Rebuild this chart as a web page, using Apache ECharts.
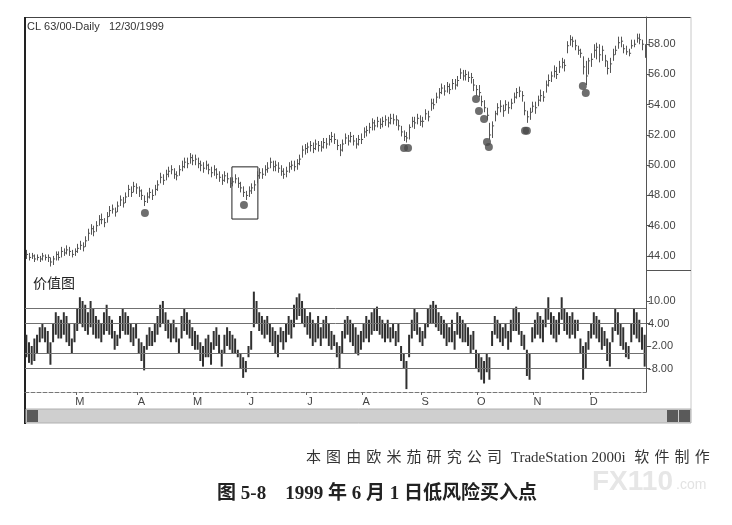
<!DOCTYPE html>
<html><head><meta charset="utf-8">
<script src="https://cdn.jsdelivr.net/npm/echarts@6/dist/echarts.min.js"></script>
<style>html,body{margin:0;padding:0;background:#fff}#c{width:732px;height:525px}</style>
</head><body><div id="c"></div><script>
// ---- price bars (daily, Feb 1 1999 .. Dec 30 1999), one row per month ----
const priceClose = [
 44.1,43.9,44.0,43.8,43.9,43.8,44.0,43.9,43.9,43.6,43.8,44.1,43.9,44.3,44.2,44.4,44.3,44.1,44.3,
 44.5,44.7,44.6,45.0,45.5,45.8,45.6,46.0,46.4,46.4,46.2,46.6,47.0,47.1,46.9,47.3,47.7,47.5,47.9,48.4,48.2,48.6,48.5,
 48.3,48.0,47.6,47.9,48.2,48.0,48.4,48.7,49.2,49.0,49.4,49.6,49.7,49.4,49.3,49.7,49.9,50.2,50.1,50.5,50.3,
 50.4,50.1,50.0,49.8,50.0,49.7,49.5,49.7,49.4,49.2,49.0,49.3,49.1,48.8,48.9,49.1,48.8,48.5,48.2,48.0,
 48.3,48.5,48.7,49.3,49.5,49.4,49.7,49.8,50.2,49.9,50.0,49.8,49.6,49.4,49.6,49.9,50.0,49.9,50.1,50.4,51.0,51.1,
 51.2,51.3,51.1,51.4,51.3,51.2,51.5,51.4,51.7,51.9,51.7,51.3,51.0,51.4,51.8,51.6,51.9,51.6,51.4,51.7,51.7,
 52.2,52.3,52.5,52.8,52.6,52.9,52.7,52.9,53.0,52.8,53.1,53.0,53.0,52.6,52.2,51.9,51.8,52.5,52.9,52.8,53.1,52.9,
 52.9,53.4,53.2,54.1,54.0,54.5,54.8,55.1,54.9,55.2,55.0,55.4,55.3,55.6,56.1,55.9,56.0,55.8,55.8,55.3,55.0,
 54.8,54.2,53.8,53.3,52.0,52.6,53.4,53.8,53.9,53.6,54.0,53.8,54.1,54.5,54.8,54.9,54.6,53.6,53.2,53.5,53.9,
 53.8,54.3,54.6,54.5,55.3,55.6,55.9,56.2,56.0,56.5,56.8,56.6,57.9,58.3,58.2,57.9,57.6,57.4,56.5,55.9,56.9,
 57.0,57.6,57.8,57.3,57.6,56.9,56.4,56.7,57.3,57.6,58.1,58.2,57.7,57.5,57.4,57.9,58.0,58.4,58.3,58.0,57.2
];
const priceHigh = [
 44.4,44.2,44.2,44.1,44.1,44.0,44.2,44.1,44.1,43.9,44.0,44.3,44.3,44.6,44.5,44.7,44.6,44.4,44.5,
 44.8,45.0,44.9,45.3,45.8,46.1,46.0,46.3,46.7,46.8,46.5,46.9,47.3,47.4,47.2,47.6,48.0,47.9,48.2,48.7,48.6,48.9,48.8,
 48.6,48.4,48.0,48.2,48.5,48.4,48.7,49.0,49.5,49.4,49.7,49.9,50.0,49.8,49.6,50.0,50.3,50.5,50.5,50.8,50.7,
 50.7,50.5,50.3,50.2,50.3,50.1,49.9,50.0,49.8,49.6,49.4,49.6,49.5,49.2,49.2,49.4,49.2,48.9,48.6,48.3,
 48.6,48.8,49.0,49.6,49.8,49.8,50.0,50.2,50.5,50.3,50.3,50.2,50.0,49.8,49.9,50.2,50.3,50.3,50.4,50.7,51.3,51.4,
 51.5,51.6,51.5,51.7,51.6,51.6,51.8,51.8,52.0,52.2,52.1,51.7,51.4,51.7,52.1,52.0,52.2,52.0,51.8,52.0,52.1,
 52.5,52.6,52.8,53.1,53.0,53.2,53.1,53.2,53.3,53.2,53.4,53.4,53.3,53.0,52.6,52.3,52.2,52.7,53.2,53.2,53.4,53.3,
 53.2,53.7,53.6,54.4,54.4,54.8,55.1,55.4,55.3,55.5,55.4,55.7,55.7,55.9,56.4,56.3,56.3,56.2,56.1,55.7,55.3,
 55.3,54.6,54.3,53.8,52.8,52.9,53.6,54.1,54.3,54.0,54.3,54.2,54.4,54.8,55.1,55.2,54.9,54.2,53.6,53.8,54.2,
 54.2,54.6,55.0,54.9,55.6,56.0,56.2,56.6,56.5,56.9,57.1,57.0,58.2,58.6,58.5,58.3,57.9,57.7,57.2,56.9,57.1,
 57.4,58.0,58.1,58.0,57.9,57.3,56.9,57.1,57.7,57.9,58.5,58.5,58.0,57.9,57.7,58.3,58.3,58.7,58.7,58.3,58.0
];
const priceLow = [
 43.8,43.7,43.8,43.6,43.7,43.6,43.7,43.7,43.6,43.3,43.4,43.7,43.7,43.9,44.0,44.1,44.0,43.9,44.0,
 44.2,44.4,44.3,44.6,45.0,45.4,45.3,45.6,46.0,46.1,45.9,46.2,46.6,46.8,46.6,46.9,47.3,47.2,47.5,47.9,47.9,48.2,48.1,
 47.9,47.7,47.3,47.5,47.8,47.7,48.0,48.3,48.8,48.7,49.0,49.2,49.4,49.1,49.0,49.3,49.6,49.8,49.8,50.1,50.0,
 50.0,49.8,49.6,49.5,49.7,49.4,49.2,49.3,49.1,48.9,48.7,48.9,48.8,48.5,48.6,48.8,48.5,48.2,47.9,47.7,
 47.9,48.1,48.3,48.8,49.1,49.1,49.3,49.5,49.8,49.6,49.6,49.5,49.3,49.1,49.2,49.5,49.7,49.6,49.7,50.0,50.5,50.7,
 50.8,50.9,50.8,51.0,50.9,50.9,51.1,51.1,51.3,51.5,51.4,51.0,50.6,50.9,51.4,51.3,51.5,51.3,51.1,51.3,51.4,
 51.8,51.9,52.1,52.3,52.3,52.5,52.4,52.5,52.6,52.5,52.7,52.7,52.6,52.3,51.9,51.6,51.5,51.7,52.5,52.4,52.7,52.6,
 52.5,53.0,52.9,53.6,53.7,54.1,54.4,54.7,54.6,54.8,54.7,55.0,55.0,55.2,55.7,55.6,55.6,55.5,55.4,54.9,54.6,
 54.5,53.9,53.5,53.0,51.7,51.8,52.9,53.3,53.5,53.2,53.6,53.4,53.7,54.1,54.4,54.5,54.2,53.3,52.8,53.0,53.5,
 53.4,53.9,54.2,54.2,54.8,55.2,55.5,55.8,55.7,56.1,56.4,56.2,57.4,57.9,57.8,57.6,57.3,57.1,56.0,55.3,56.0,
 56.5,57.1,57.0,56.8,56.9,56.5,56.0,56.1,56.9,57.3,57.7,57.8,57.4,57.3,57.2,57.7,57.8,58.1,58.0,57.6,57.1
];
// ---- value chart (价值图) bar highs / lows ----
const valueHigh = [
 1,-1,-2,0,1,3,4,3,2,-1,4,7,6,5,7,6,4,0,4,
 8,11,10,9,7,10,8,6,5,4,7,9,6,5,2,1,6,8,7,6,4,3,4,
 0,-1,-2,1,3,2,4,6,9,10,7,5,4,5,3,0,6,8,7,5,3,
 2,1,-1,-2,0,1,-1,2,3,1,-3,1,3,2,1,0,-3,-4,-5,-6,
 -2,2,12.5,10,7,6,5,6,4,3,2,1,3,2,4,6,5,9,11,12,10,8,
 6,7,5,4,6,3,5,6,4,2,1,-1,-2,2,5,6,5,4,3,1,2,
 4,6,5,7,8,8.5,6,5,4,5,3,4,2,4,-2,-4,-6,1,5,8,7,3,
 2,4,8,9,10,9,7,6,5,4,3,5,2,7,6,5,4,3,1,2,-3,
 -4,-5,-6,-4,-5,2,6,5,4,3,4,2,5,8,8.5,7,2,1,-3,-4,3,
 5,7,6,5,8,11,7,6,5,7,11,8,7,6,7,5,5,0,-2,-1,2,
 4,7,6,5,3,2,0,-1,3,8,7,4,3,-1,-2,4,8,7,5,3,1
];
const valueLow = [
 -5,-6.5,-7,-6,-4,-1,0,-1,-4,-7,-1,1,0,0,1,-1,-2,-4,-1,
 2,4,3,2,1,3,1,0,0,-1,1,2,1,0,-3,-2,0,2,1,1,-1,-2,0,
 -4,-6,-8.5,-3,-2,-2,-1,1,3,4,2,0,-1,0,-1,-4,0,2,1,0,-2,
 -3,-3,-6,-7.5,-5,-5,-7,-3,-2,-4,-7.5,-4,-2,-3,-4,-4,-5,-8,-10.5,-9,
 -5,-3,3,4,2,1,0,1,-1,-2,-4,-5,-1,-3,-1,1,0,3,5,6,4,3,
 1,0,-2,-1,0,-2,0,0,-2,-3,-2,-5,-8,-4,0,1,-1,-2,-4,-4.5,-3,
 -1,0,-1,1,2,2,1,0,-1,0,-1,0,-2,-1,-6,-8,-13.5,-5,0,2,1,-1,
 -2,0,3,4,4,3,2,1,0,-2,-1,-1,-3,1,0,-1,-1,-2,-4,-3,-8,
 -9,-11,-12,-9,-11,-2,1,0,-1,-2,0,-3,-1,2,2,1,-2,-3,-10,-11,-1,
 0,1,0,-1,3,5,1,0,-1,1,5,2,1,0,1,0,2,-4,-11,-8,-3,
 0,1,0,-1,-3,-2,-6,-7.5,-1,2,1,-2,-3,-5,-5.5,-1,1,0,-1,-3,-7.5
];
// low-risk buy points (bar index, price)
const buyDots = [[44.3,46.84],[81.3,47.37],[141.1,51.14],[142.6,51.14],[168,54.38],[169.1,53.59],[171,53.06],
 [172.1,51.54],[172.8,51.21],[186.3,52.27],[187,52.27],[207.9,55.24],[209,54.78]];
// highlighted box around June 1 1999
const boxCorners = [[76.8,49.89],[86.5,46.44]];
const monthStarts = [19,42,63,83,105,126,148,169,190,211];
const monthLetters = ['M','A','M','J','J','A','S','O','N','D'];
const priceTicks = [44,46,48,50,52,54,56,58];
const valueTicks = [10,4,-2,-8];
const valueBands = [8,4,-4,-8];
const footerText = '本图由欧米茄研究公司 TradeStation 2000i 软件制作';
const captionText = '图 5-8    1999 年 6 月 1 日低风险买入点';

const priceData = priceClose.map((c,i)=>[i, priceHigh[i], priceLow[i], c]);
const valueData = valueHigh.map((h,i)=>[i, h, valueLow[i]]);
const N = priceClose.length;

const chart = echarts.init(document.getElementById('c'));
const sans = "'Liberation Sans', Arial, sans-serif";
const cjk = "'Liberation Serif','Noto Sans CJK SC',serif";

// footer: CJK characters are letter-spaced as in the printed figure
const footerFont = '15px ' + cjk;
const mctx = document.createElement('canvas').getContext('2d');
mctx.font = footerFont;
const footerParts = footerText.match(/[\u4e00-\u9fff]| ?[A-Za-z0-9][A-Za-z0-9 ]*[A-Za-z0-9] ?/g);
const cjkPitch = 20.1;
let fx = 306; const footerGraphics = [];
footerParts.forEach(p=>{
  footerGraphics.push({type:'text',x:fx,y:458,style:{text:p,fill:'#333',font:footerFont,textVerticalAlign:'middle'}});
  fx += /[\u4e00-\u9fff]/.test(p) ? cjkPitch : mctx.measureText(p).width + 5;
});

function yAxisCfg(grid, min, max, ticks){
  return {gridIndex:grid, type:'value', position:'right', min:min, max:max,
    axisLine:{show:true,onZero:false,lineStyle:{color:'#555',width:1}},
    axisTick:{show:true,customValues:ticks,length:4,lineStyle:{color:'#555'}},
    axisLabel:{customValues:ticks,formatter:v=>Number(v).toFixed(2),margin:2,fontSize:11,color:'#444',fontFamily:sans},
    splitLine:{show:false}};
}

chart.setOption({
  animation:false,
  backgroundColor:'#fff',
  grid:[{left:25,top:17,width:621,height:253},{left:25,top:270,width:621,height:122}],
  xAxis:[
    {gridIndex:0,type:'value',min:-0.5,max:N-0.5,show:false},
    {gridIndex:1,type:'value',min:-0.5,max:N-0.5,
      axisLine:{show:true,onZero:false,lineStyle:{color:'#777',type:'dashed'}},
      axisTick:{show:true,customValues:monthStarts.map(v=>v-0.5),length:3,lineStyle:{color:'#666'}},
      axisLabel:{customValues:monthStarts.map(v=>v+1),formatter:v=>{const k=monthStarts.indexOf(Math.round(v)-1);return k>=0?monthLetters[k]:'';},
        fontSize:11,color:'#444',margin:4,fontFamily:sans},
      splitLine:{show:false}}
  ],
  yAxis:[yAxisCfg(0,43.07,59.8,priceTicks), yAxisCfg(1,-14.27,18.27,valueTicks)],
  series:[
    {type:'custom',xAxisIndex:0,yAxisIndex:0,data:priceData,encode:{x:0,y:[1,2]},clip:true,
      renderItem:(params,api)=>{
        const i=api.value(0), pH=api.coord([i,api.value(1)]), pL=api.coord([i,api.value(2)]), pC=api.coord([i,api.value(3)]);
        const x=Math.round(pH[0])+0.5;
        return {type:'group',children:[
          {type:'line',shape:{x1:x,y1:pH[1],x2:x,y2:pL[1]},style:{stroke:'#555',lineWidth:1}},
          {type:'line',shape:{x1:x,y1:pC[1],x2:x+1.6,y2:pC[1]},style:{stroke:'#555',lineWidth:1}}
        ]};
      }},
    {type:'scatter',xAxisIndex:0,yAxisIndex:0,data:buyDots,symbol:'circle',symbolSize:8,
      itemStyle:{color:'#4a4a4a'},silent:true,
      markArea:{silent:true,itemStyle:{color:'rgba(0,0,0,0)',borderColor:'#222',borderWidth:1},
        data:[[{coord:boxCorners[0]},{coord:boxCorners[1]}]]}},
    {type:'custom',xAxisIndex:1,yAxisIndex:1,data:valueData,encode:{x:0,y:[1,2]},clip:true,
      renderItem:(params,api)=>{
        const i=api.value(0), pH=api.coord([i,api.value(1)]), pL=api.coord([i,api.value(2)]);
        return {type:'line',shape:{x1:pH[0],y1:pH[1],x2:pL[0],y2:pL[1]},style:{stroke:'#303030',lineWidth:2}};
      },
      markLine:{silent:true,symbol:'none',label:{show:false},
        lineStyle:{color:'#707070',width:1,type:'solid'},
        data:valueBands.map(v=>({yAxis:v}))}}
  ],
  graphic:[
    {type:'line',shape:{x1:25,y1:17.5,x2:691,y2:17.5},style:{stroke:'#444',lineWidth:1}},
    {type:'line',shape:{x1:25,y1:17,x2:25,y2:424},style:{stroke:'#222',lineWidth:2}},
    {type:'line',shape:{x1:691,y1:17,x2:691,y2:409},style:{stroke:'#c8c8c8',lineWidth:1}},
    {type:'line',shape:{x1:646,y1:270.5,x2:691,y2:270.5},style:{stroke:'#555',lineWidth:1}},
    {type:'rect',shape:{x:26,y:409,width:665,height:14},style:{fill:'#cfcfcf',stroke:'#b0b0b0'}},
    {type:'rect',shape:{x:27,y:410,width:11,height:12},style:{fill:'#5a5a5a'}},
    {type:'rect',shape:{x:667,y:410,width:11,height:12},style:{fill:'#5a5a5a'}},
    {type:'rect',shape:{x:679,y:410,width:11,height:12},style:{fill:'#5a5a5a'}},
    {type:'text',left:27,top:21,style:{text:'CL 63/00-Daily   12/30/1999',fill:'#333',font:'11px '+sans}},
    {type:'text',left:33,top:276,style:{text:'价值图',fill:'#222',font:"14px 'Noto Sans CJK SC'"}},
    {type:'text',x:592,y:468,style:{text:'FX110',fill:'#e6e6e6',font:"bold 28px 'Liberation Sans'"}},
    {type:'text',x:676,y:478,style:{text:'.com',fill:'#e3e3e3',font:"14px 'Liberation Sans'"}},
    ...footerGraphics,
    {type:'text',x:377,y:494,style:{text:captionText,fill:'#222',
      font:"bold 19px "+cjk,textAlign:'center',textVerticalAlign:'middle'}}
  ]
});
</script></body></html>
